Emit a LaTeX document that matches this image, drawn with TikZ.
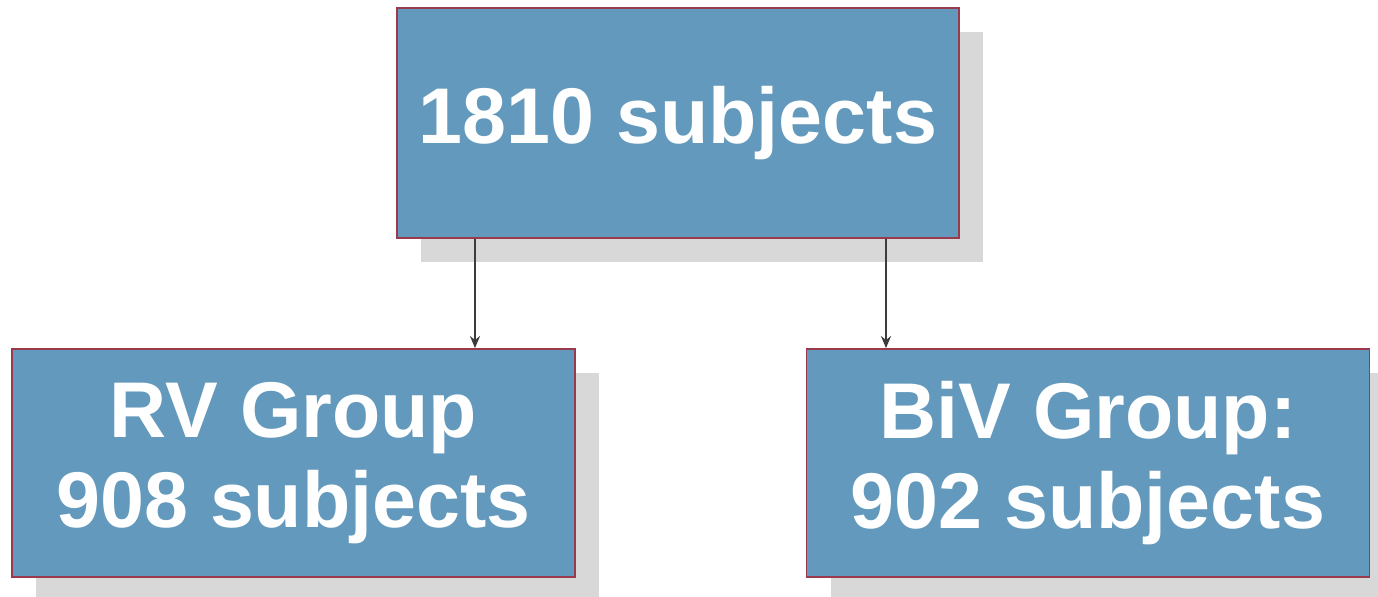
\documentclass[tikz,border=0pt]{standalone}
\usepackage{fontspec}
\setmainfont{Liberation Sans}
\usetikzlibrary{shadows,arrows.meta}
\definecolor{boxblue}{HTML}{6399BC}
\definecolor{boxedge}{HTML}{9A3A4E}
\definecolor{shadowgray}{HTML}{D8D8D8}
\definecolor{arrowgray}{HTML}{3C3C3C}
\begin{document}
\begin{tikzpicture}[x=0.5pt,y=-0.5pt,
  box/.style={draw=boxedge, line width=0.9pt, fill=boxblue, text=white,
    font=\fontsize{39.5}{45}\selectfont\bfseries, align=center, inner sep=0pt,
    drop shadow={shadow xshift=12pt, shadow yshift=-12pt, fill=shadowgray, opacity=1}},
  topbox/.style={box, minimum width=281pt, minimum height=115pt},
  lowbox/.style={box, minimum width=281.5pt, minimum height=114pt},
  arr/.style={draw=arrowgray, line width=0.75pt, -{Stealth[length=6pt,width=5pt]}}]
\useasboundingbox (0,0) rectangle (1378,597);
\fill[white] (0,0) rectangle (1378,597);
\node[topbox] (top) at (678,123) {1810 subjects};
\node[lowbox] (rv) at (293.5,463) {RV Group\\908 subjects};
\node[lowbox] (biv) at (1088,463) {BiV Group:\\902 subjects};
\draw[arr] ([xshift=-101.5pt]top.south) -- ([xshift=90.75pt]rv.north);
\draw[arr] ([xshift=104pt]top.south) -- ([xshift=-101pt]biv.north);
\end{tikzpicture}
\end{document}
